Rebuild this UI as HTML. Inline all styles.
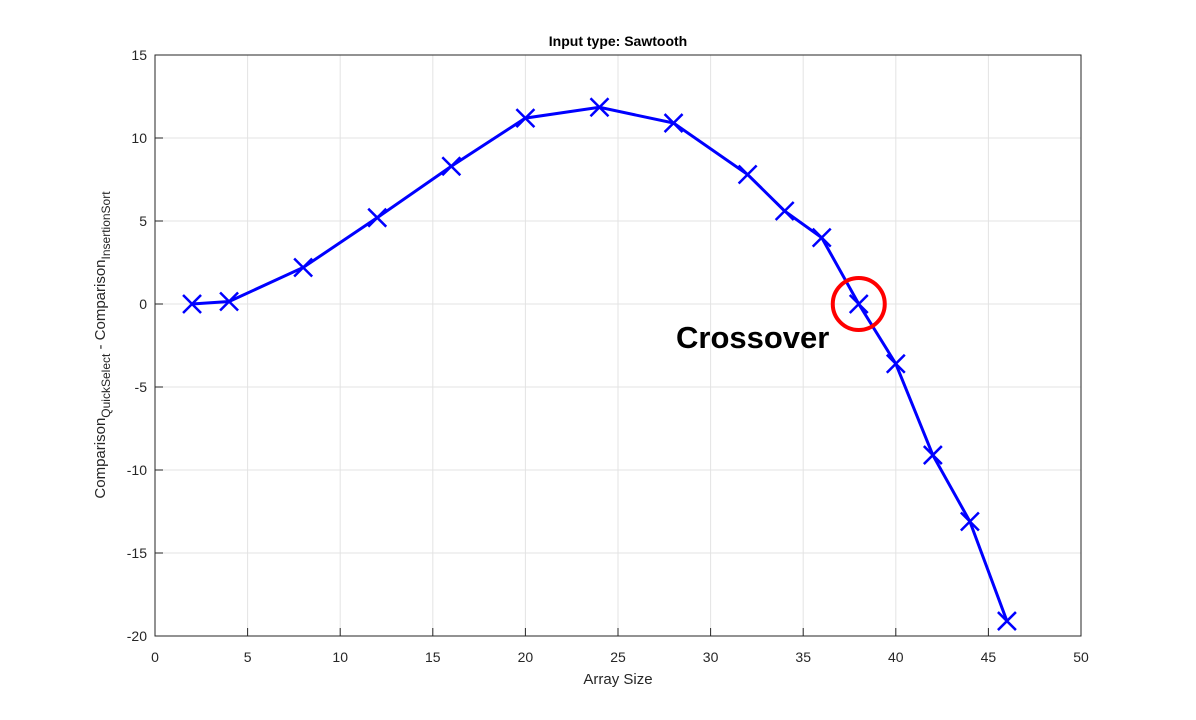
<!DOCTYPE html>
<html><head><meta charset="utf-8"><style>
body{margin:0;background:#fff;}
svg text{font-family:"Liberation Sans",Arial,sans-serif;}
</style></head><body>
<svg id="chart" width="1196" height="715">
<rect x="0" y="0" width="1196" height="715" fill="#fff"/>
<g id="grid"></g>
<g id="ticks"></g>
<rect x="155" y="55" width="926" height="581" fill="none" stroke="#262626" stroke-width="1"/>
<g id="series"></g>
<text x="618" y="46" text-anchor="middle" font-size="14" font-weight="bold" fill="#000">Input type: Sawtooth</text>
<text x="618" y="684" text-anchor="middle" font-size="15" fill="#262626">Array Size</text>
<text transform="translate(105,345) rotate(-90)" text-anchor="middle" font-size="15" fill="#262626">Comparison<tspan font-size="12" dy="5">QuickSelect</tspan><tspan dy="-5"> - Comparison</tspan><tspan font-size="12" dy="5">InsertionSort</tspan></text>
<circle id="cross" r="26" fill="none" stroke="#ff0000" stroke-width="4"/>
<text x="676" y="348" font-size="31" font-weight="bold" fill="#000">Crossover</text>
</svg>
<script>
const xValues=[2,4,8,12,16,20,24,28,32,34,36,38,40,42,44,46];
const yValues=[0,0.15,2.2,5.2,8.3,11.2,11.85,10.9,7.8,5.6,4.0,0,-3.6,-9.1,-13.1,-19.1];
const xTicks=[0,5,10,15,20,25,30,35,40,45,50];
const yTicks=[15,10,5,0,-5,-10,-15,-20];
const crossoverPoint=[38,0];
const NS="http://www.w3.org/2000/svg";
const X0=155,X1=1081,Y0=55,Y1=636;
function sx(v){return X0+(v-0)/(50-0)*(X1-X0);}
function sy(v){return Y0+(15-v)/(15-(-20))*(Y1-Y0);}
function mk(t,a,p){const e=document.createElementNS(NS,t);for(const k in a)e.setAttribute(k,a[k]);p.appendChild(e);return e;}
const grid=document.getElementById('grid'),ticks=document.getElementById('ticks'),series=document.getElementById('series');
xTicks.forEach(t=>{
 const x=sx(t);
 const g=mk('line',{x1:x,x2:x,y1:Y0,y2:Y1,stroke:'#e3e3e3','stroke-width':1},grid);
 
 
 const tm=mk('line',{x1:x,x2:x,y1:Y1,y2:Y1-8,stroke:'#262626','stroke-width':1},ticks);
 
 
 const l=mk('text',{x:x,y:Y1+26,'text-anchor':'middle','font-size':14,fill:'#262626'},ticks);
 l.textContent=t;
 
 
});
yTicks.forEach(t=>{
 const y=sy(t);
 const g=mk('line',{x1:X0,x2:X1,y1:y,y2:y,stroke:'#e3e3e3','stroke-width':1},grid);
 
 
 const tm=mk('line',{x1:X0,x2:X0+8,y1:y,y2:y,stroke:'#262626','stroke-width':1},ticks);
 
 
 const l=mk('text',{x:X0-8,y:y+5,'text-anchor':'end','font-size':14,fill:'#262626'},ticks);
 l.textContent=t;
 
 
});
const pts=xValues.map((v,i)=>sx(v)+','+sy(yValues[i])).join(' ');
const line=mk('polyline',{points:pts,fill:'none',stroke:'#0000ff','stroke-width':3},series);


xValues.forEach((v,i)=>{
 const x=sx(v),y=sy(yValues[i]),s=9;
 const p=mk('path',{d:`M${x-s},${y-s}L${x+s},${y+s}M${x-s},${y+s}L${x+s},${y-s}`,stroke:'#0000ff','stroke-width':2.5,fill:'none'},series);
 
 
});
const c=document.getElementById('cross');
c.setAttribute('cx',sx(crossoverPoint[0]));c.setAttribute('cy',sy(crossoverPoint[1]));
</script>
</body></html>
